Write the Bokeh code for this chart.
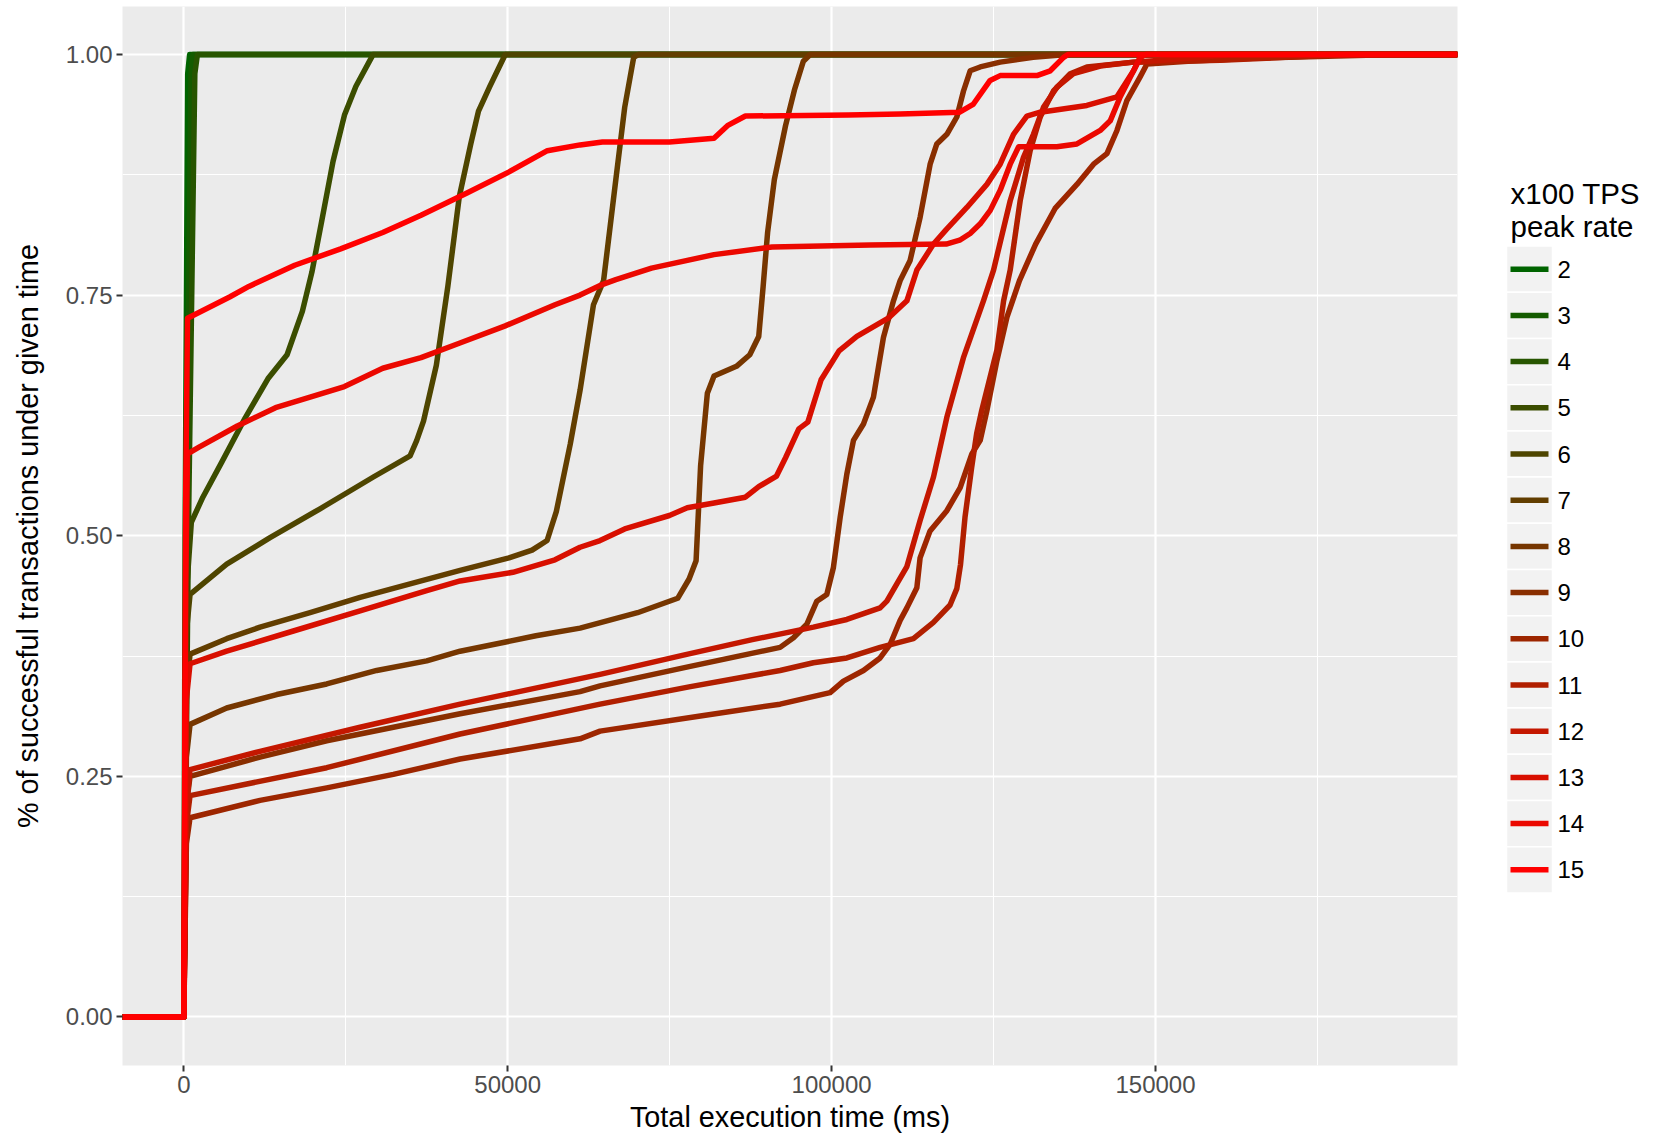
from bokeh.plotting import figure
from bokeh.models import Range1d, FixedTicker, PrintfTickFormatter
from bokeh.layouts import row
from bokeh.embed import file_html
from bokeh.resources import INLINE
from bokeh.core.properties import value

# ---------------- data ----------------
rates = [2, 3, 4, 5, 6, 7, 8, 9, 10, 11, 12, 13, 14, 15]   # x100 TPS peak rate

t2 = [0, 200, 600, 900]
f2 = [0.0, 0.50, 0.98, 1.0]
t3 = [0, 400, 1100, 1400]
f3 = [0.0, 0.50, 0.98, 1.0]
t4 = [0, 700, 1700, 2100]
f4 = [0.0, 0.50, 0.98, 1.0]
t5 = [0, 500, 1160, 2940, 5900, 9440, 12980, 15940, 18300, 19780, 21260, 23040, 24800, 26570, 29230]
f5 = [0.0, 0.45, 0.514, 0.540, 0.577, 0.622, 0.663, 0.688, 0.733, 0.774, 0.826, 0.889, 0.937, 0.967, 1.0]
t6 = [0, 400, 960, 6620, 13310, 21030, 29260, 34930, 35960, 37000, 38980, 40760, 42520, 44300, 45490, 47260, 49620]
f6 = [0.0, 0.40, 0.439, 0.4705, 0.498, 0.528, 0.561, 0.583, 0.599, 0.619, 0.677, 0.759, 0.852, 0.907, 0.941, 0.967, 1.0]
t7 = [0, 400, 960, 6620, 11770, 19490, 27210, 34930, 42650, 50200, 53760, 56080, 57500, 59650, 61170,
      63240, 64800, 66690, 68060, 69450, 70200]
f7 = [0.0, 0.34, 0.377, 0.393, 0.405, 0.420, 0.436, 0.450, 0.464, 0.477, 0.485, 0.495, 0.525, 0.595, 0.651,
      0.740, 0.765, 0.870, 0.945, 0.997, 1.0]
t8 = [0, 400, 960, 6620, 14340, 22060, 29780, 37500, 42650, 54350, 61170, 70040, 76240, 78000, 79080, 79780,
      80820, 81850, 85310, 87370, 88750, 89430, 90120, 91160, 92890, 94260, 95640, 96700]
f8 = [0.0, 0.27, 0.304, 0.321, 0.335, 0.346, 0.360, 0.370, 0.380, 0.396, 0.404, 0.420, 0.435, 0.455, 0.474, 0.573,
      0.648, 0.666, 0.676, 0.688, 0.707, 0.759, 0.815, 0.870, 0.926, 0.963, 0.993, 1.0]
t9 = [0, 400, 960, 11770, 22060, 32350, 42650, 61170, 64260, 78000, 92050, 94110, 96170, 97720, 99260, 100280,
      101320, 102350, 103370, 104920, 106460, 107230, 108000, 109550, 110580, 112120, 113670, 115210, 116240,
      117790, 119330, 120360, 121390, 122940, 126030, 131120, 136300]
f9 = [0.0, 0.22, 0.250, 0.270, 0.287, 0.301, 0.315, 0.338, 0.344, 0.364, 0.384, 0.394, 0.408, 0.432, 0.439, 0.467,
      0.519, 0.564, 0.599, 0.616, 0.644, 0.675, 0.706, 0.744, 0.765, 0.786, 0.831, 0.886, 0.907,
      0.917, 0.935, 0.962, 0.983, 0.987, 0.992, 0.997, 1.0]
t10 = [0, 400, 960, 11770, 22060, 32350, 42650, 61170, 64260, 80000, 92050, 99770, 101830, 104920, 107490, 109030,
       110580, 111620, 113160, 113660, 115200, 117790, 119850, 121650, 122940, 123970, 125520, 127070, 129000,
       131500, 134500, 137870, 140440, 142500, 144050, 145580, 147650, 148680, 155000, 165000, 187000]
f10 = [0.0, 0.18, 0.207, 0.225, 0.238, 0.252, 0.268, 0.289, 0.297, 0.313, 0.325, 0.337, 0.349, 0.360, 0.373, 0.387,
       0.412, 0.425, 0.446, 0.477, 0.505, 0.526, 0.550, 0.585, 0.599, 0.630, 0.682, 0.727, 0.765,
       0.803, 0.840, 0.865, 0.886, 0.897, 0.921, 0.952, 0.977, 0.990, 0.993, 0.996, 1.0]
t11 = [0, 400, 960, 22060, 42650, 64260, 78000, 92050, 97190, 102350, 107490, 112630, 115720, 118290, 119330,
       119900, 120590, 121620, 122390, 123170, 125520, 126550, 127570, 129110, 130650, 132200, 134250, 136840,
       139400, 146610, 160000, 170000, 180000]
f11 = [0.0, 0.20, 0.230, 0.259, 0.294, 0.325, 0.343, 0.360, 0.368, 0.373, 0.384, 0.393, 0.410, 0.428, 0.445,
       0.470, 0.519, 0.571, 0.606, 0.630, 0.693, 0.744, 0.776, 0.848, 0.900, 0.935, 0.962, 0.980,
       0.987, 0.992, 0.994, 0.997, 1.0]
t12 = [0, 400, 960, 11770, 27210, 42650, 64260, 77120, 87760, 97190, 102350, 107490, 108530, 110070, 111620,
       113670, 115730, 117790, 120350, 123440, 125000, 127570, 129620, 131160, 132700, 134780, 137340, 141470,
       146610, 155000, 162000]
f12 = [0.0, 0.22, 0.257, 0.276, 0.301, 0.325, 0.356, 0.376, 0.392, 0.405, 0.413, 0.425, 0.432, 0.450, 0.468,
       0.516, 0.561, 0.623, 0.685, 0.744, 0.776, 0.848, 0.893, 0.917, 0.945, 0.966, 0.980, 0.988,
       0.992, 0.996, 1.0]
t13 = [0, 400, 960, 6620, 16910, 27210, 37500, 42650, 50800, 57300, 61170, 64260, 68060, 74960, 77720, 81850,
       86690, 88750, 91500, 92890, 94940, 96330, 98380, 101150, 103900, 108740, 111620, 113160, 115730, 117690,
       120880, 123970, 126020, 128080, 130140, 132200, 139400, 144050, 146610, 147650, 148500]
f13 = [0.0, 0.33, 0.367, 0.380, 0.401, 0.422, 0.443, 0.453, 0.462, 0.475, 0.488, 0.495, 0.507, 0.521, 0.529, 0.534,
       0.540, 0.551, 0.562, 0.581, 0.611, 0.618, 0.662, 0.692, 0.707, 0.726, 0.744, 0.776, 0.803, 0.818,
       0.841, 0.865, 0.886, 0.917, 0.936, 0.940, 0.947, 0.956, 0.983, 0.997, 1.0]
t14 = [0, 300, 570, 2350, 8260, 14160, 19490, 24800, 30710, 36620, 42520, 49620, 57300, 61170, 64260, 66690,
       72200, 81850, 90820, 105980, 117690, 119770, 121390, 122940, 124490, 126030, 127570, 128860, 134780,
       137870, 141470, 143010, 144560, 146610, 147650, 148500]
f14 = [0.0, 0.45, 0.585, 0.592, 0.614, 0.633, 0.644, 0.655, 0.674, 0.685, 0.700, 0.718, 0.740, 0.750, 0.760, 0.766,
       0.778, 0.792, 0.800, 0.802, 0.803, 0.807, 0.814, 0.824, 0.838, 0.859, 0.886, 0.904, 0.904,
       0.907, 0.921, 0.931, 0.956, 0.983, 0.997, 1.0]
t15 = [0, 300, 570, 7070, 10040, 17120, 24210, 30710, 36620, 43710, 50210, 56120, 61170, 64620, 74960, 81850,
       83920, 86690, 102540, 110580, 119770, 121840, 124470, 126020, 131690, 133750, 135810, 136500]
f15 = [0.0, 0.55, 0.726, 0.748, 0.759, 0.781, 0.798, 0.815, 0.833, 0.856, 0.878, 0.900, 0.906, 0.909, 0.909, 0.913,
       0.926, 0.936, 0.937, 0.938, 0.940, 0.948, 0.973, 0.978, 0.978, 0.983, 0.997, 1.0]

series = {2: (t2, f2), 3: (t3, f3), 4: (t4, f4), 5: (t5, f5), 6: (t6, f6), 7: (t7, f7), 8: (t8, f8),
          9: (t9, f9), 10: (t10, f10), 11: (t11, f11), 12: (t12, f12), 13: (t13, f13), 14: (t14, f14),
          15: (t15, f15)}

x_ticks = [0, 50000, 100000, 150000]
x_minor = [25000, 75000, 125000, 175000]
y_ticks = [0.0, 0.25, 0.5, 0.75, 1.0]
y_minor = [0.125, 0.375, 0.625, 0.875]

# ---------------- styling ----------------
FONT = "Liberation Sans"


def ramp(i, n):
    # linear RGB ramp darkgreen (#006400) -> red (#FF0000)
    t = i / (n - 1)
    r = round(255 * t)
    g = round(100 * (1 - t))
    return "#%02X%02X%02X" % (r, g, 0)


colors = {v: ramp(i, len(rates)) for i, v in enumerate(rates)}

X0, X1 = -9465, 196620
Y0, Y1 = -0.0504, 1.0498
FRAME_TOP, FRAME_BOTTOM = 6, 1065

p = figure(width=1470, height=1137, x_range=Range1d(X0, X1), y_range=Range1d(Y0, Y1),
           output_backend="svg", toolbar_location=None,
           min_border_left=122, min_border_right=13, min_border_top=FRAME_TOP,
           min_border_bottom=1137 - FRAME_BOTTOM,
           background_fill_color="#EBEBEB", border_fill_color="white", outline_line_color=None)

p.xaxis.ticker = FixedTicker(ticks=x_ticks, minor_ticks=x_minor)
p.yaxis.ticker = FixedTicker(ticks=y_ticks, minor_ticks=y_minor)
p.xaxis.formatter = PrintfTickFormatter(format="%d")
p.yaxis.formatter = PrintfTickFormatter(format="%.2f")

p.grid.grid_line_color = "white"
p.grid.grid_line_width = 2.2
p.grid.minor_grid_line_color = "white"
p.grid.minor_grid_line_width = 1.1

for ax in (p.xaxis[0], p.yaxis[0]):
    ax.axis_line_color = None
    ax.major_tick_line_color = "#333333"
    ax.major_tick_line_width = 2
    ax.major_tick_out = 6
    ax.major_tick_in = 0
    ax.minor_tick_line_color = None
    ax.major_label_text_font = FONT
    ax.major_label_text_font_size = "24px"
    ax.major_label_text_color = "#4D4D4D"
    ax.major_label_standoff = 4
    ax.axis_label_text_font = FONT
    ax.axis_label_text_font_size = "28.8px"
    ax.axis_label_text_font_style = "normal"
    ax.axis_label_text_color = "black"

p.xaxis.axis_label = "Total execution time (ms)"
p.yaxis.axis_label = "% of successful transactions under given time"
p.xaxis.axis_label_standoff = 5
p.yaxis.axis_label_standoff = 19

for v in rates:
    xs, ys = series[v]
    # ecdf steps extend from -Inf at 0 to +Inf at 1
    p.line([X0] + xs + [X1], [0.0] + ys + [1.0], line_color=colors[v], line_width=5.5,
           line_join="round")

# ---------------- legend panel ----------------
# the row aligns this panel's frame with the main frame, so its y range is in page pixels
LW = 186
leg = figure(width=LW, height=1137, x_range=Range1d(0, LW), y_range=Range1d(FRAME_BOTTOM, FRAME_TOP),
             output_backend="svg", toolbar_location=None, min_border=0,
             min_border_top=FRAME_TOP, min_border_bottom=1137 - FRAME_BOTTOM,
             x_axis_location=None, y_axis_location=None,
             outline_line_color=None, background_fill_color="white", border_fill_color="white")
leg.grid.visible = False

key_top = 268.7
key_step = 46.2
centers = [key_top + i * key_step for i in range(len(rates))]
leg.rect(x=[59] * len(rates), y=centers, width=46, height=key_step, fill_color="#F2F2F2",
         line_color="white", line_width=1.5)
leg.segment(x0=[40] * len(rates), x1=[78] * len(rates), y0=centers, y1=centers,
            line_color=[colors[v] for v in rates], line_width=5.5)
leg.text(x=[87] * len(rates), y=centers, text=[str(v) for v in rates], text_font=value(FONT),
         text_font_size="24px", text_baseline="middle", text_color="black")
leg.text(x=[40, 40], y=[193, 226], text=["x100 TPS", "peak rate"], text_font=value(FONT),
         text_font_size="29.5px", text_baseline="middle", text_color="black")

layout = row(p, leg)
open("out.html", "w").write(file_html(layout, INLINE))
